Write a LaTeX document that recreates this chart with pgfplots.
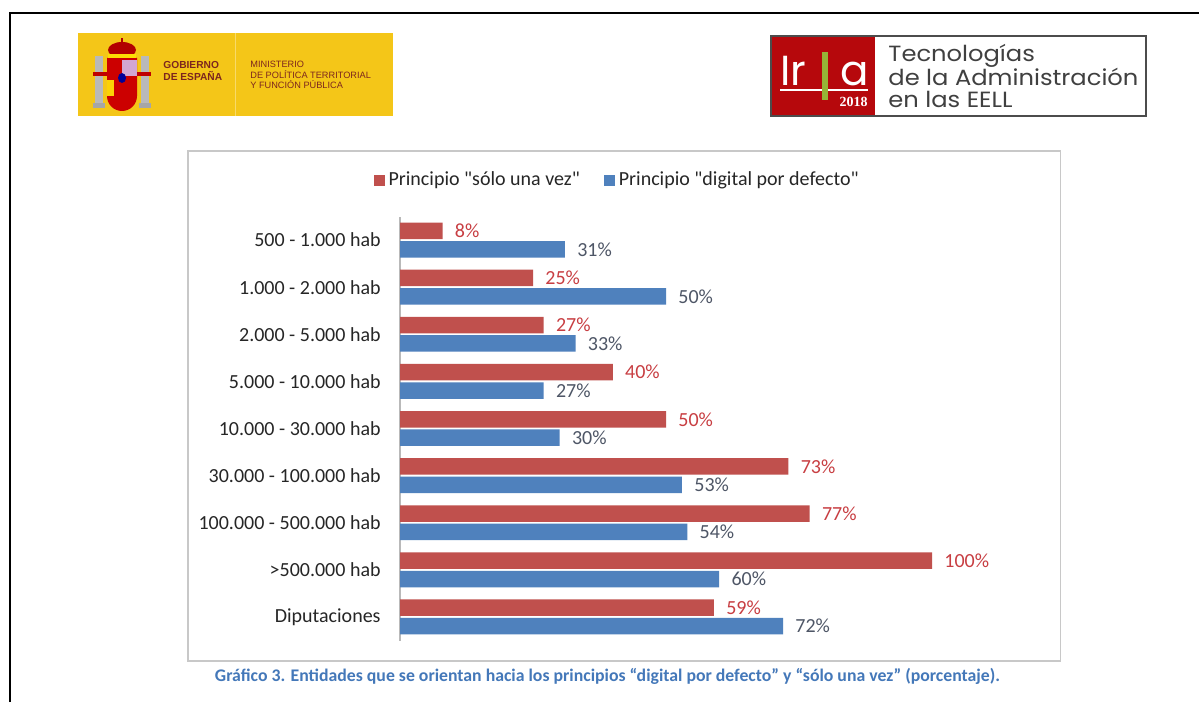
\documentclass[border=0pt]{standalone}
\usepackage{fontspec}
\setmainfont{Carlito}
\newfontfamily\legf{Carlito}[Ligatures=TeXOff]
\newfontfamily\arialf{Liberation Sans}
\newfontfamily\serf{Liberation Serif}
\newfontfamily\popf{Poppins}
\usepackage{pgfplots}
\pgfplotsset{compat=1.18}
\definecolor{barred}{RGB}{192,80,77}
\definecolor{barblue}{RGB}{79,129,189}
\definecolor{labred}{RGB}{200,62,66}
\definecolor{labblue}{RGB}{78,86,102}
\definecolor{capblue}{RGB}{68,120,185}
\definecolor{govyellow}{RGB}{244,198,24}
\definecolor{govtext}{RGB}{125,38,30}
\definecolor{iriared}{RGB}{182,8,12}
\definecolor{iriagreen}{RGB}{150,180,55}
\definecolor{boxgray}{RGB}{200,200,200}
\definecolor{axgray}{RGB}{185,185,185}

\begin{document}
\begin{tikzpicture}
\useasboundingbox (0,0) rectangle (599.5pt,351pt);
\fill[white] (0,0) rectangle (599.5pt,351pt);
% page frame
\draw[line width=1pt] (4.75pt,0) -- (4.75pt,344.5pt) -- (599.5pt,344.5pt);

% ---- Gobierno de Espana logo ----
\fill[govyellow] (39pt,293pt) rectangle (196.5pt,334.5pt);
\draw[govyellow!65!white, line width=0.4pt] (117.5pt,293pt) -- (117.5pt,334.5pt);
% coat of arms (schematic)
\fill[gray!55] (47.5pt,299pt) rectangle (51.5pt,323pt);
\fill[gray!55] (70.5pt,299pt) rectangle (74.5pt,323pt);
\fill[gray!70] (46.5pt,297pt) rectangle (52.5pt,299.5pt);
\fill[gray!70] (69.5pt,297pt) rectangle (75.5pt,299.5pt);
\fill[red!75!black] (46.5pt,313pt) rectangle (75.5pt,315pt);
\fill[red!80!black] (53.5pt,322pt) -- (53.5pt,303pt) arc[start angle=180,end angle=360,radius=7.5pt] -- (68.5pt,322pt) -- cycle;
\fill[violet!35!white] (61pt,313pt) rectangle (68.5pt,321pt);
\fill[yellow!70!orange] (53.5pt,303pt) rectangle (57pt,311pt);
\fill[blue!60!black] (61pt,312pt) ellipse (2pt and 2.5pt);
\fill[red!70!black] (61pt,326pt) ellipse (7pt and 4pt);
\fill[yellow!80!orange] (54pt,322pt) rectangle (68pt,324pt);
\fill[red!70!black] (60.5pt,330pt) rectangle (61.5pt,332pt);
\node[anchor=west, align=left, font=\arialf\bfseries\fontsize{5.1}{5.6}\selectfont, text=govtext, inner sep=0pt] at (81.5pt,315.5pt) {GOBIERNO\\DE ESPAÑA};
\node[anchor=west, align=left, font=\arialf\fontsize{4.6}{5.1}\selectfont, text=govtext, inner sep=0pt] at (125pt,313.5pt) {MINISTERIO\\DE POLÍTICA TERRITORIAL\\Y FUNCIÓN PÚBLICA};

% ---- Iria logo ----
\fill[white] (385.5pt,293pt) rectangle (573pt,333pt);
\fill[iriared] (385.5pt,293pt) rectangle (437.5pt,333pt);
\draw[gray!60!black, line width=0.6pt] (385.5pt,293pt) rectangle (573pt,333pt);
\node[anchor=base west, inner sep=0pt, text=white, font=\popf\fontsize{21}{21}\selectfont] at (390pt,308pt) {Ir};
\node[anchor=base west, inner sep=0pt, text=white, font=\popf\fontsize{21}{21}\selectfont] at (420pt,308pt) {\smash{a}};
\draw[white, line width=1pt] (390pt,306pt) -- (434pt,306pt);
\fill[iriagreen] (411pt,301pt) rectangle (414pt,325pt);
\node[anchor=base east, inner sep=0pt, text=white, font=\serf\bfseries\fontsize{7}{7}\selectfont] at (434pt,297.5pt) {2018};
\node[anchor=north west, align=left, inner sep=0pt, text=black!75] at (444pt,329pt) {\scalebox{1.1}[1]{\popf\fontsize{11}{10.25}\selectfont\begin{tabular}{@{}l@{}}Tecnologías\\de la Administración\\en las EELL\end{tabular}}};

% ---- chart box ----
\draw[boxgray, line width=0.75pt, fill=white] (94pt,20.5pt) rectangle (530.25pt,275.5pt);

\begin{axis}[
  at={(200pt,30.75pt)}, anchor=south west,
  scale only axis, width=266pt, height=212pt,
  xbar, bar width=8.25pt,
  xmin=0, xmax=100,
  ymin=-0.5, ymax=8.5,
  ytick={0,1,2,3,4,5,6,7,8},
  yticklabels={Diputaciones,>500.000 hab,100.000 - 500.000 hab,30.000 - 100.000 hab,10.000 - 30.000 hab,5.000 - 10.000 hab,2.000 - 5.000 hab,1.000 - 2.000 hab,500 - 1.000 hab},
  axis x line=none,
  axis y line*=left,
  y axis line style={draw=axgray, line width=0.6pt},
  major tick length=0pt,
  ytick style={draw=none},
  yticklabel style={font=\fontsize{10}{12}\selectfont, text=black!85, anchor=east, inner sep=0pt, xshift=-9.5pt},
  /pgf/number format/assume math mode=true,
  nodes near coords={\pgfmathprintnumber{\pgfplotspointmeta}\%},
  nodes near coords align={horizontal},
  legend style={draw=none, fill=none, at={(0.41,1.086)}, anchor=center, font=\legf\fontsize{10}{12}\selectfont, text=black!85, /tikz/every even column/.append style={column sep=10pt}},
  legend columns=2,
  legend image code/.code={\fill[#1] (0pt,-2.75pt) rectangle (5.5pt,2.75pt);},
]
\addplot[fill=barred, draw=none, bar shift=4.6pt,
  every node near coord/.append style={text=labred, font=\fontsize{10}{12}\selectfont, anchor=west, inner sep=0pt, xshift=6pt}]
  coordinates {(59,0) (100,1) (77,2) (73,3) (50,4) (40,5) (27,6) (25,7) (8,8)};
\addlegendentry{Principio "sólo una vez"}
\addplot[fill=barblue, draw=none, bar shift=-4.6pt,
  every node near coord/.append style={text=labblue, font=\fontsize{10}{12}\selectfont, anchor=west, inner sep=0pt, xshift=6pt}]
  coordinates {(72,0) (60,1) (54,2) (53,3) (30,4) (27,5) (33,6) (50,7) (31,8)};
\addlegendentry{Principio "digital por defecto"}
\end{axis}

% caption
\node[text=capblue, inner sep=0pt] at (303.75pt,13pt) {\resizebox{392.5pt}{!}{\bfseries Gráfico 3. Entidades que se orientan hacia los principios “digital por defecto” y “sólo una vez” (porcentaje).}};
\end{tikzpicture}
\end{document}
